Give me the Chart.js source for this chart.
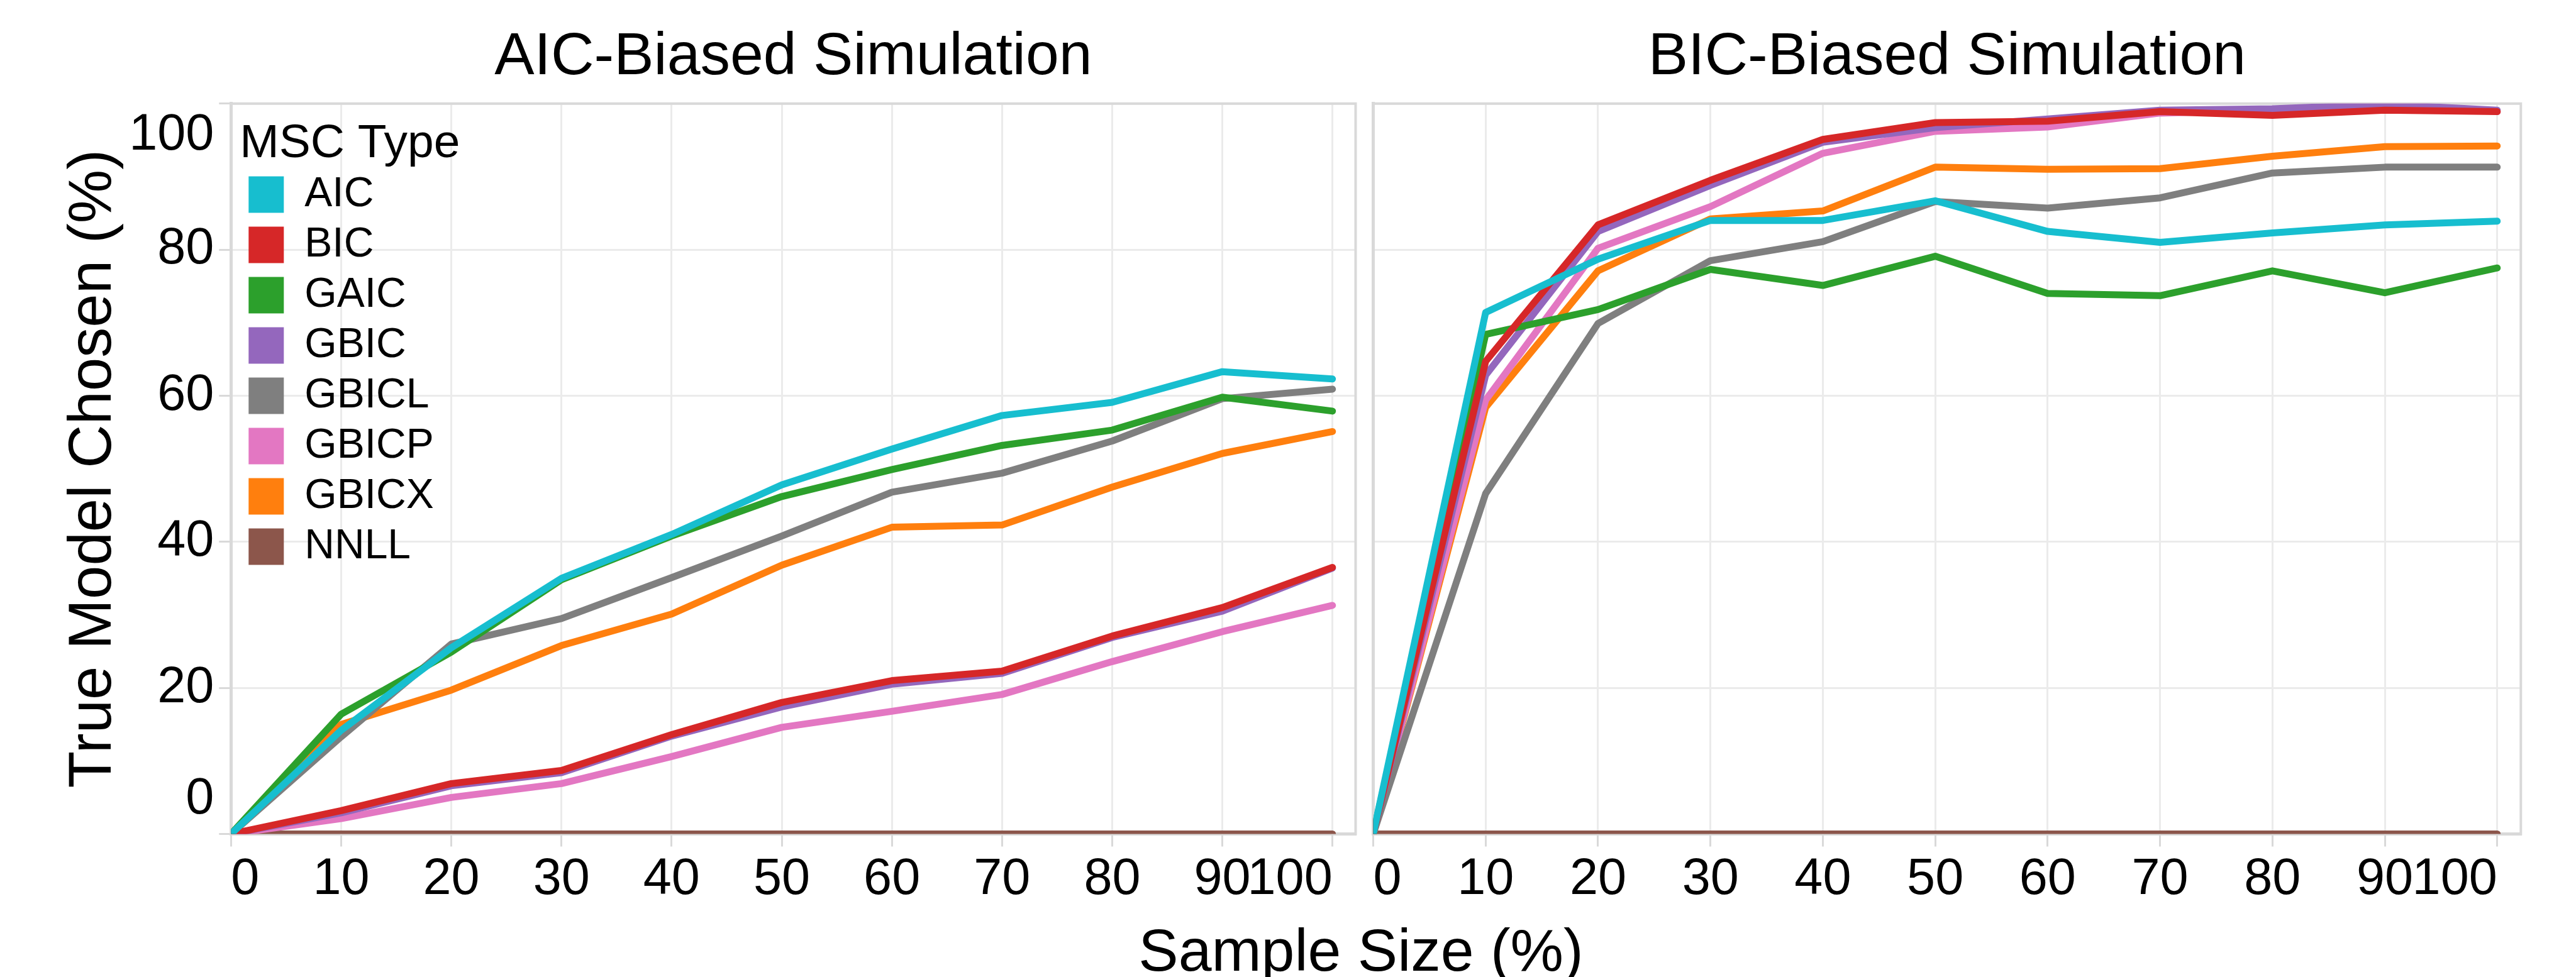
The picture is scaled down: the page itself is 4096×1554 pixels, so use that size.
<!DOCTYPE html>
<html>
<head>
<meta charset="utf-8">
<script src="https://cdn.jsdelivr.net/npm/chart.js@4.4.1/dist/chart.umd.min.js"></script>
<style>
  html, body { margin: 0; padding: 0; background: #ffffff; width: 4096px; height: 1554px; overflow: hidden; }
  #leftPanel { position: absolute; left: 0; top: 0; }
  #rightPanel { position: absolute; left: 2169px; top: 0; }
  #xTitle { position: absolute; left: 2164px; top: 1464px; transform: translateX(-50%);
            font-family: "Liberation Sans", Arial, sans-serif; font-size: 95px; line-height: 1;
            white-space: nowrap; color: #000; }
</style>
</head>
<body>
<canvas id="leftPanel" width="2169" height="1554"></canvas>
<canvas id="rightPanel" width="1927" height="1554"></canvas>
<div id="xTitle">Sample Size (%)</div>
<script>
// ---------- data ----------
const sampleSizePct = [0, 10, 20, 30, 40, 50, 60, 70, 80, 90, 100];
const xTickValues   = [0, 10, 20, 30, 40, 50, 60, 70, 80, 90, 100];
const yTickValues   = [0, 20, 40, 60, 80, 100];
const mscTypes  = ['AIC', 'BIC', 'GAIC', 'GBIC', 'GBICL', 'GBICP', 'GBICX', 'NNLL'];
const mscColors = ['#17becf', '#d62728', '#2ca02c', '#9467bd', '#7f7f7f', '#e377c2', '#ff7f0e', '#8c564b'];

// AIC-Biased Simulation
const aicSim_AIC   = [0, 14.2, 25.5, 35.0, 41.0, 47.8, 52.7, 57.3, 59.1, 63.3, 62.3];
const aicSim_BIC   = [0, 3.2, 6.9, 8.7, 13.6, 18.0, 21.0, 22.3, 27.1, 31.0, 36.5];
const aicSim_GAIC  = [0, 16.4, 24.9, 34.8, 40.8, 46.2, 49.9, 53.2, 55.3, 59.8, 57.9];
const aicSim_GBIC  = [0, 2.9, 6.6, 8.4, 13.4, 17.4, 20.5, 22.0, 26.9, 30.5, 36.4];
const aicSim_GBICL = [0, 13.3, 26.0, 29.5, 35.1, 40.8, 46.8, 49.4, 53.8, 59.6, 60.9];
const aicSim_GBICP = [0, 2.1, 5.0, 6.9, 10.6, 14.6, 16.8, 19.1, 23.6, 27.7, 31.3];
const aicSim_GBICX = [0, 15.0, 19.7, 25.8, 30.1, 36.8, 42.0, 42.3, 47.5, 52.1, 55.1];
const aicSim_NNLL  = [0, 0, 0, 0, 0, 0, 0, 0, 0, 0, 0];

// BIC-Biased Simulation
const bicSim_AIC   = [0, 71.4, 78.7, 84.0, 84.0, 86.7, 82.5, 81.0, 82.3, 83.4, 83.9];
const bicSim_BIC   = [0, 64.7, 83.4, 89.5, 95.1, 97.4, 97.6, 98.9, 98.4, 99.1, 98.9];
const bicSim_GAIC  = [0, 68.4, 71.8, 77.3, 75.1, 79.1, 74.0, 73.7, 77.1, 74.1, 77.5];
const bicSim_GBIC  = [0, 62.8, 82.5, 88.8, 94.7, 96.7, 97.9, 99.1, 99.3, 99.9, 99.1];
const bicSim_GBICL = [0, 46.6, 69.9, 78.5, 81.1, 86.6, 85.7, 87.1, 90.5, 91.3, 91.3];
const bicSim_GBICP = [0, 59.4, 80.2, 85.9, 93.2, 96.2, 96.8, 98.7, 99.1, 100, 98.9];
const bicSim_GBICX = [0, 58.4, 77.1, 84.2, 85.3, 91.3, 91.0, 91.1, 92.8, 94.1, 94.2];
const bicSim_NNLL  = [0, 0, 0, 0, 0, 0, 0, 0, 0, 0, 0];

// ---------- styling ----------
const FONT = '"Liberation Sans", Arial, sans-serif';
Chart.defaults.font.family = FONT;
Chart.defaults.color = '#000';

function makeDatasets(seriesList) {
  return mscTypes.map((name, i) => ({
    label: name,
    data: seriesList[i],
    borderColor: mscColors[i],
    backgroundColor: mscColors[i],
    borderWidth: 11,
    pointRadius: 0,
    pointHoverRadius: 0,
    tension: 0,
    fill: false,
    borderJoinStyle: 'round',
    borderCapStyle: 'round'
  }));
}

const panelBorder = {
  id: 'panelBorder',
  beforeDatasetsDraw(chart) {
    const { ctx, chartArea: a } = chart;
    ctx.save();
    ctx.strokeStyle = '#d9d9d9';
    ctx.lineWidth = 4;
    ctx.strokeRect(a.left, a.top, a.right - a.left, a.bottom - a.top);
    ctx.restore();
  }
};

// keep the legend (position 'chartArea') inside the plot area, slightly inset
const legendInset = {
  id: 'legendInset',
  afterLayout(chart) {
    const l = chart.legend;
    if (l && chart.options.plugins.legend.display) {
      const a = chart.chartArea;
      l.left = a.left + 14;
      l.top = a.top;
      l.bottom = a.bottom;
    }
  }
};

function xScale() {
  return {
    type: 'linear',
    min: 0,
    max: 102.1,
    afterBuildTicks: s => { s.ticks = xTickValues.map(v => ({ value: v })); },
    afterFit: s => { s.height = 227.5; },
    grid: { color: '#ebebeb', lineWidth: 3, drawTicks: true, tickLength: 20, tickColor: '#d9d9d9', tickWidth: 3 },
    border: { display: true, color: '#d9d9d9', width: 5 },
    ticks: { align: 'inner', padding: 5, color: '#000', font: { size: 81 }, maxRotation: 0, autoSkip: false }
  };
}

const commonOpts = {
  responsive: false,
  animation: false,
  devicePixelRatio: 1,
  events: []
};

// ---------- left panel ----------
new Chart(document.getElementById('leftPanel'), {
  type: 'line',
  data: {
    labels: sampleSizePct,
    datasets: makeDatasets([aicSim_AIC, aicSim_BIC, aicSim_GAIC, aicSim_GBIC, aicSim_GBICL, aicSim_GBICP, aicSim_GBICX, aicSim_NNLL])
  },
  options: Object.assign({}, commonOpts, {
    layout: { padding: { left: 0, right: 13.5, top: 0, bottom: 0 } },
    scales: {
      x: xScale(),
      y: {
        min: 0,
        max: 100,
        afterBuildTicks: s => { s.ticks = yTickValues.map(v => ({ value: v })); },
        afterFit: s => { s.width = 367.3; },
        grid: { color: '#ebebeb', lineWidth: 3, drawTicks: true, tickLength: 19, tickColor: '#d9d9d9', tickWidth: 3 },
        border: { display: true, color: '#d9d9d9', width: 5 },
        ticks: {
          padding: 8,
          color: '#000',
          font: ctx => ({ size: 81, lineHeight: ctx.index === 0 ? 1.358 : (ctx.index === yTickValues.length - 1 ? 1.26 : 1.2) }),
          callback: (v, i, t) => i === 0 ? [String(v), ''] : (i === t.length - 1 ? ['', String(v)] : String(v))
        },
        title: { display: true, text: 'True Model Chosen (%)', color: '#000', font: { size: 96 }, padding: { top: 92, bottom: 0 } }
      }
    },
    plugins: {
      title: {
        display: true, text: 'AIC-Biased Simulation', color: '#000', fullSize: false,
        font: { size: 95, weight: 'normal' }, padding: { top: 34.6, bottom: 16.2 }
      },
      legend: {
        display: true,
        position: 'chartArea',
        align: 'start',
        labels: {
          boxWidth: 56, boxHeight: 58, padding: 14, color: '#000', font: { size: 66 },
          generateLabels: chart => chart.data.datasets.map((ds, i) => ({
            text: ds.label, fillStyle: ds.borderColor, strokeStyle: ds.borderColor,
            lineWidth: 0, hidden: false, datasetIndex: i
          }))
        },
        title: {
          display: true, text: 'MSC Type', position: 'start', color: '#000',
          font: { size: 75, lineHeight: 0.945 }, padding: { top: 26.7, bottom: 0 }
        }
      },
      tooltip: { enabled: false }
    }
  }),
  plugins: [panelBorder, legendInset]
});

// ---------- right panel ----------
new Chart(document.getElementById('rightPanel'), {
  type: 'line',
  data: {
    labels: sampleSizePct,
    datasets: makeDatasets([bicSim_AIC, bicSim_BIC, bicSim_GAIC, bicSim_GBIC, bicSim_GBICL, bicSim_GBICP, bicSim_GBICX, bicSim_NNLL])
  },
  options: Object.assign({}, commonOpts, {
    layout: { padding: { left: 14.5, right: 87.7, top: 0, bottom: 0 } },
    scales: {
      x: xScale(),
      y: {
        min: 0,
        max: 100,
        afterBuildTicks: s => { s.ticks = yTickValues.map(v => ({ value: v })); },
        afterFit: s => { s.width = 0; },
        grid: { color: '#ebebeb', lineWidth: 3, drawTicks: false },
        border: { display: true, color: '#d9d9d9', width: 5 },
        ticks: { display: false }
      }
    },
    plugins: {
      title: {
        display: true, text: 'BIC-Biased Simulation', color: '#000', fullSize: false,
        font: { size: 95, weight: 'normal' }, padding: { top: 34.6, bottom: 16.2 }
      },
      legend: { display: false },
      tooltip: { enabled: false }
    }
  }),
  plugins: [panelBorder]
});
</script>
</body>
</html>
